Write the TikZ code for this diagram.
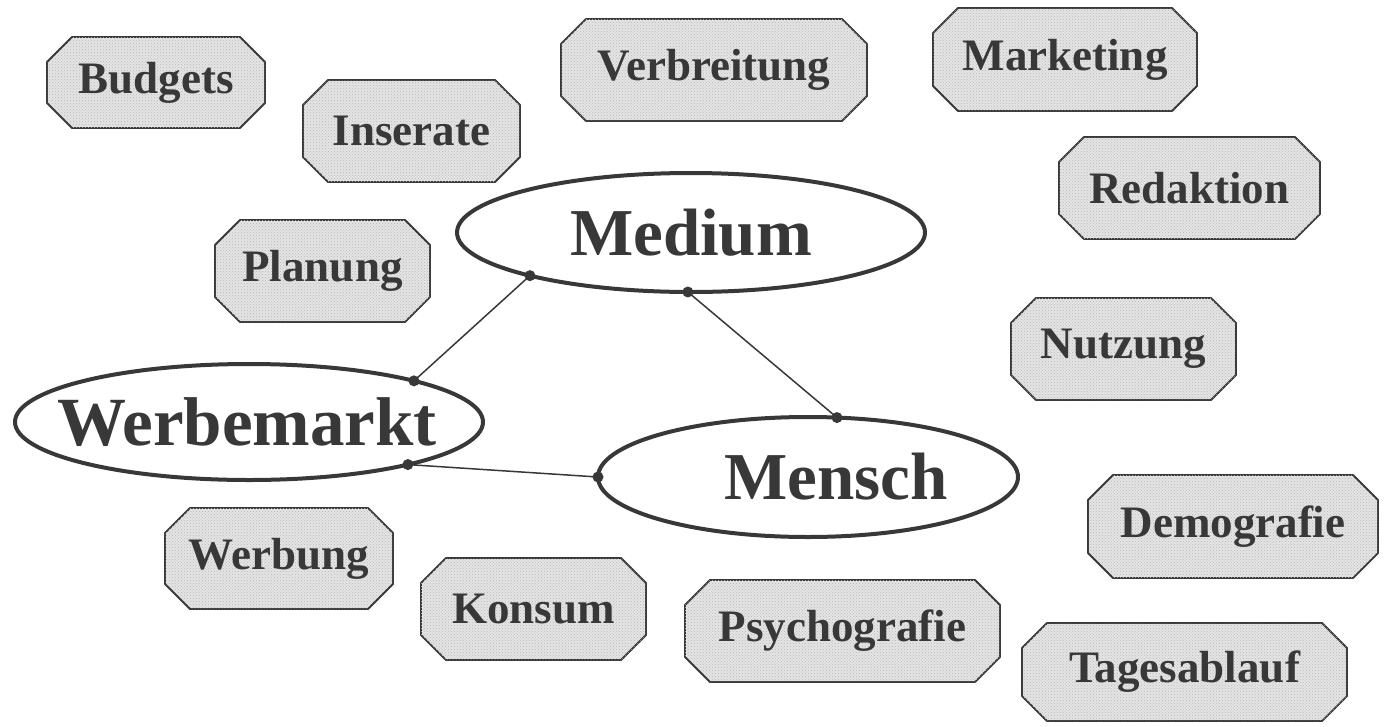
\documentclass[tikz,border=0pt]{standalone}
\usepackage{fontspec}
\setmainfont{Liberation Serif}
\usetikzlibrary{shapes.geometric,patterns}
\definecolor{ink}{HTML}{383838}
\definecolor{boxfill}{HTML}{E4E4E4}
\begin{document}
\begin{tikzpicture}[x=1pt,y=-1pt,
  box/.style={rectangle, inner sep=0pt, outer sep=0pt,
    text=ink, font=\bfseries\fontsize{45}{50}\selectfont},
  octo/.style={draw=ink, line width=1.8pt, fill=boxfill, line join=round},
  bigell/.style={ellipse, draw=ink, line width=4pt, fill=white, inner sep=0pt, outer sep=0pt},
  bigtext/.style={text=ink, inner sep=0pt, font=\bfseries\fontsize{67}{72}\selectfont},
  conn/.style={draw=ink, line width=1.5pt},
  dot/.style={circle, fill=ink, inner sep=0pt, minimum size=11pt}]
\useasboundingbox (0,0) rectangle (1387,726);
\fill[white] (0,0) rectangle (1387,726);

% box frames (named invisible nodes, text drawn afterwards)
\path
  (156,82.5)   node[box, minimum width=218, minimum height=91]  (budgets) {}
  (411.5,131)  node[box, minimum width=217, minimum height=102] (inserate) {}
  (714,70)     node[box, minimum width=306, minimum height=102] (verbreitung) {}
  (1065,59.5)  node[box, minimum width=264, minimum height=103] (marketing) {}
  (1189.5,188) node[box, minimum width=261, minimum height=102] (redaktion) {}
  (322.5,271)  node[box, minimum width=215, minimum height=102] (planung) {}
  (1123.5,349) node[box, minimum width=225, minimum height=102] (nutzung) {}
  (279,558.5)  node[box, minimum width=228, minimum height=101] (werbung) {}
  (533.5,609)  node[box, minimum width=225, minimum height=102] (konsum) {}
  (842.5,631)  node[box, minimum width=315, minimum height=102] (psychografie) {}
  (1233,526.5) node[box, minimum width=290, minimum height=103] (demografie) {}
  (1184.5,672) node[box, minimum width=325, minimum height=98] (tagesablauf) {};

\foreach \n in {budgets,inserate,verbreitung,marketing,redaktion,planung,nutzung,werbung,konsum,psychografie,demografie,tagesablauf}{
  \draw[octo]
    ([xshift=25pt]\n.north west) -- ([xshift=-25pt]\n.north east)
    -- ([yshift=-25pt]\n.north east) -- ([yshift=25pt]\n.south east)
    -- ([xshift=-25pt]\n.south east) -- ([xshift=25pt]\n.south west)
    -- ([yshift=25pt]\n.south west) -- ([yshift=-25pt]\n.north west) -- cycle;
  \fill[pattern=crosshatch dots, pattern color=gray!55]
    ([xshift=25pt]\n.north west) -- ([xshift=-25pt]\n.north east)
    -- ([yshift=-25pt]\n.north east) -- ([yshift=25pt]\n.south east)
    -- ([xshift=-25pt]\n.south east) -- ([xshift=25pt]\n.south west)
    -- ([yshift=25pt]\n.south west) -- ([yshift=-25pt]\n.north west) -- cycle;
}

\node[box] at (budgets) {Budgets};
\node[box] at (inserate) {Inserate};
\node[box] at (verbreitung) {Verbreitung};
\node[box] at (marketing) {Marketing};
\node[box] at (redaktion) {Redaktion};
\node[box] at (planung) {Planung};
\node[box] at (nutzung) {Nutzung};
\node[box] at (werbung) {Werbung};
\node[box] at (konsum) {Konsum};
\node[box] at (psychografie) {Psychografie};
\node[box] at (demografie) {Demografie};
\node[box] at (tagesablauf) {Tagesablauf};

% ellipses
\node[bigell, minimum width=468, minimum height=119] (medium) at (691,232.5) {};
\node[bigell, minimum width=468, minimum height=116] (werbemarkt) at (249,422) {};
\node[bigell, minimum width=420, minimum height=120] (mensch) at (808,477) {};
\node[bigtext] at (medium) {Medium};
\node[bigtext, font=\bfseries\fontsize{69}{74}\selectfont] at ([xshift=-2pt]werbemarkt) {Werbemarkt};
\node[bigtext] at ([xshift=28pt]mensch) {Mensch};

% connectors
\draw[conn] (medium.195) -- (werbemarkt.14);
\draw[conn] (medium.267) -- (mensch.64);
\draw[conn] (werbemarkt.-15) -- (mensch.180);
\foreach \p in {medium.195, werbemarkt.14, medium.267, mensch.64, werbemarkt.-15, mensch.180}
  \node[dot] at (\p) {};
\end{tikzpicture}
\end{document}
